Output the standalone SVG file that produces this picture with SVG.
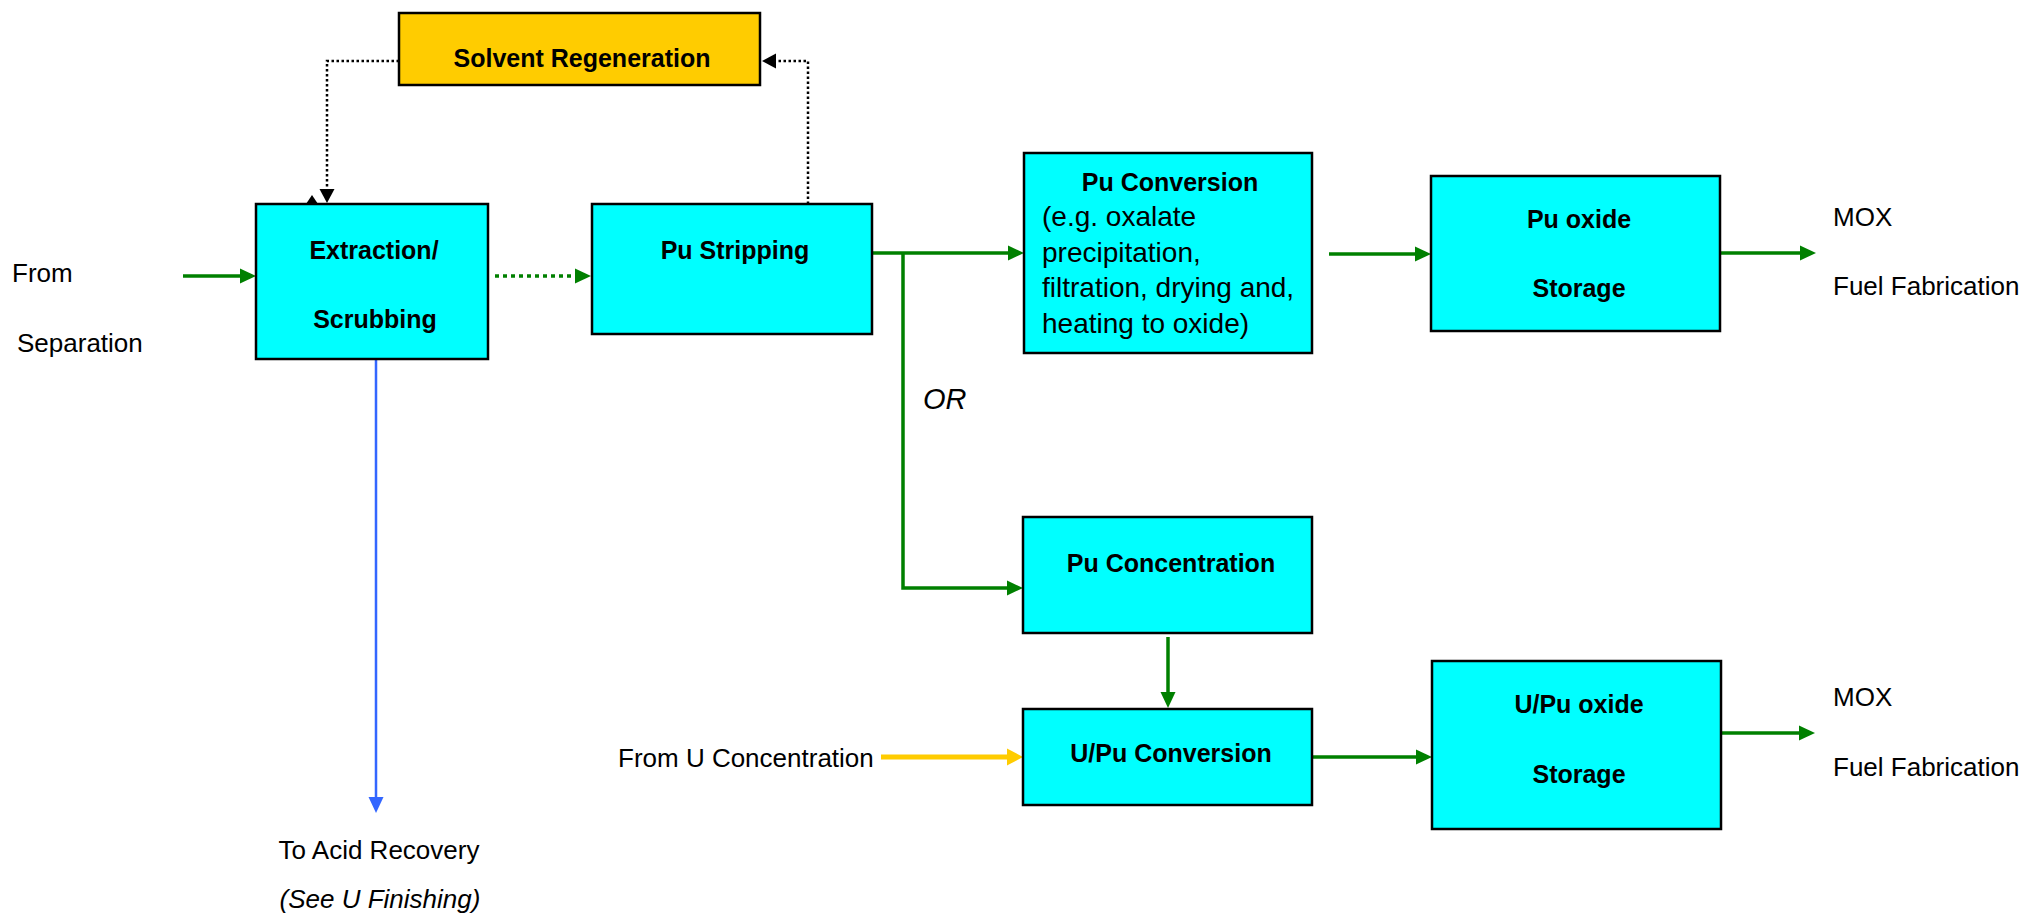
<svg xmlns="http://www.w3.org/2000/svg" width="2027" height="917" viewBox="0 0 2027 917">
<style>
.box{fill:#00FFFF;stroke:#000;stroke-width:2.5}
.sol{fill:#FFCC00;stroke:#000;stroke-width:2.5}
text{font-family:"Liberation Sans",Arial,sans-serif;fill:#000}
.b{font-weight:bold;font-size:25px;text-anchor:middle}
.r{font-size:26px}
.body{font-size:28px}
.i{font-style:italic}
.c{text-anchor:middle}
.g{fill:none;stroke:#008000;stroke-width:3.5}
.gd{fill:none;stroke:#008000;stroke-width:3.5;stroke-dasharray:4 4}
.k{fill:none;stroke:#000;stroke-width:2.5;stroke-dasharray:2.5 2.5}
.y{fill:none;stroke:#FFCC00;stroke-width:5}
.bl{fill:none;stroke:#3366FF;stroke-width:2.5}
</style>
<defs>
<marker id="ag" markerUnits="userSpaceOnUse" markerWidth="16" markerHeight="15" refX="4" refY="7.5" orient="auto" overflow="visible"><path d="M0,0 L16,7.5 L0,15 Z" fill="#008000"/></marker>
<marker id="ay" markerUnits="userSpaceOnUse" markerWidth="16" markerHeight="17" refX="4" refY="8.5" orient="auto" overflow="visible"><path d="M0,0 L16,8.5 L0,17 Z" fill="#FFCC00"/></marker>
<marker id="ak" markerUnits="userSpaceOnUse" markerWidth="14" markerHeight="15" refX="3" refY="7.5" orient="auto" overflow="visible"><path d="M0,0 L14,7.5 L0,15 Z" fill="#000"/></marker>
<marker id="ab" markerUnits="userSpaceOnUse" markerWidth="16" markerHeight="15" refX="4" refY="7.5" orient="auto" overflow="visible"><path d="M0,0 L16,7.5 L0,15 Z" fill="#3366FF"/></marker>
</defs>

<g id="connectors">
<path class="g" d="M183,276 H244" marker-end="url(#ag)"/>
<path class="gd" d="M495,276 H579" marker-end="url(#ag)"/>
<path class="k" d="M399,61 H327 V192" marker-end="url(#ak)"/>
<polygon points="306,204 318,204 312,195" fill="#000"/>
<path class="k" d="M808,204 V61 H773" marker-end="url(#ak)"/>
<path class="g" d="M872,253 H1012" marker-end="url(#ag)"/>
<path class="g" d="M903,253 V588 H1011" marker-end="url(#ag)"/>
<path class="g" d="M1329,254 H1419" marker-end="url(#ag)"/>
<path class="g" d="M1720,253 H1804" marker-end="url(#ag)"/>
<path class="g" d="M1168,637 V696" marker-end="url(#ag)"/>
<path class="y" d="M881,757 H1011" marker-end="url(#ay)"/>
<path class="g" d="M1312,757 H1420" marker-end="url(#ag)"/>
<path class="g" d="M1721,733 H1803" marker-end="url(#ag)"/>
<path class="bl" d="M376,359 V801" marker-end="url(#ab)"/>
</g>

<g id="solvent-regeneration">
<rect class="sol" x="399" y="13" width="361" height="72"/>
<text class="b" x="582" y="67">Solvent Regeneration</text>
</g>

<g id="extraction-scrubbing">
<rect class="box" x="256" y="204" width="232" height="155"/>
<text class="b" x="374" y="259">Extraction/</text>
<text class="b" x="375" y="328">Scrubbing</text>
</g>

<g id="pu-stripping">
<rect class="box" x="592" y="204" width="280" height="130"/>
<text class="b" x="735" y="259">Pu Stripping</text>
</g>

<g id="pu-conversion">
<rect class="box" x="1024" y="153" width="288" height="200"/>
<text class="b" x="1170" y="191">Pu Conversion</text>
<text class="body" x="1042" y="226">(e.g. oxalate</text>
<text class="body" x="1042" y="262">precipitation,</text>
<text class="body" x="1042" y="297">filtration, drying and,</text>
<text class="body" x="1042" y="333">heating to oxide)</text>
</g>

<g id="pu-oxide-storage">
<rect class="box" x="1431" y="176" width="289" height="155"/>
<text class="b" x="1579" y="228">Pu oxide</text>
<text class="b" x="1579" y="297">Storage</text>
</g>

<g id="pu-concentration">
<rect class="box" x="1023" y="517" width="289" height="116"/>
<text class="b" x="1171" y="572">Pu Concentration</text>
</g>

<g id="upu-conversion">
<rect class="box" x="1023" y="709" width="289" height="96"/>
<text class="b" x="1171" y="762">U/Pu Conversion</text>
</g>

<g id="upu-oxide-storage">
<rect class="box" x="1432" y="661" width="289" height="168"/>
<text class="b" x="1579" y="713">U/Pu oxide</text>
<text class="b" x="1579" y="783">Storage</text>
</g>

<g id="labels">
<text class="r" x="12" y="282">From</text>
<text class="r" x="17" y="352">Separation</text>
<text class="r" x="1833" y="226">MOX</text>
<text class="r" x="1833" y="295">Fuel Fabrication</text>
<text class="r" x="1833" y="706">MOX</text>
<text class="r" x="1833" y="776">Fuel Fabrication</text>
<text class="r" x="618" y="767">From U Concentration</text>
<text class="i" x="923" y="409" font-size="29">OR</text>
<text class="r c" x="379" y="859">To Acid Recovery</text>
<text class="r c i" x="380" y="908">(See U Finishing)</text>
</g>
</svg>
